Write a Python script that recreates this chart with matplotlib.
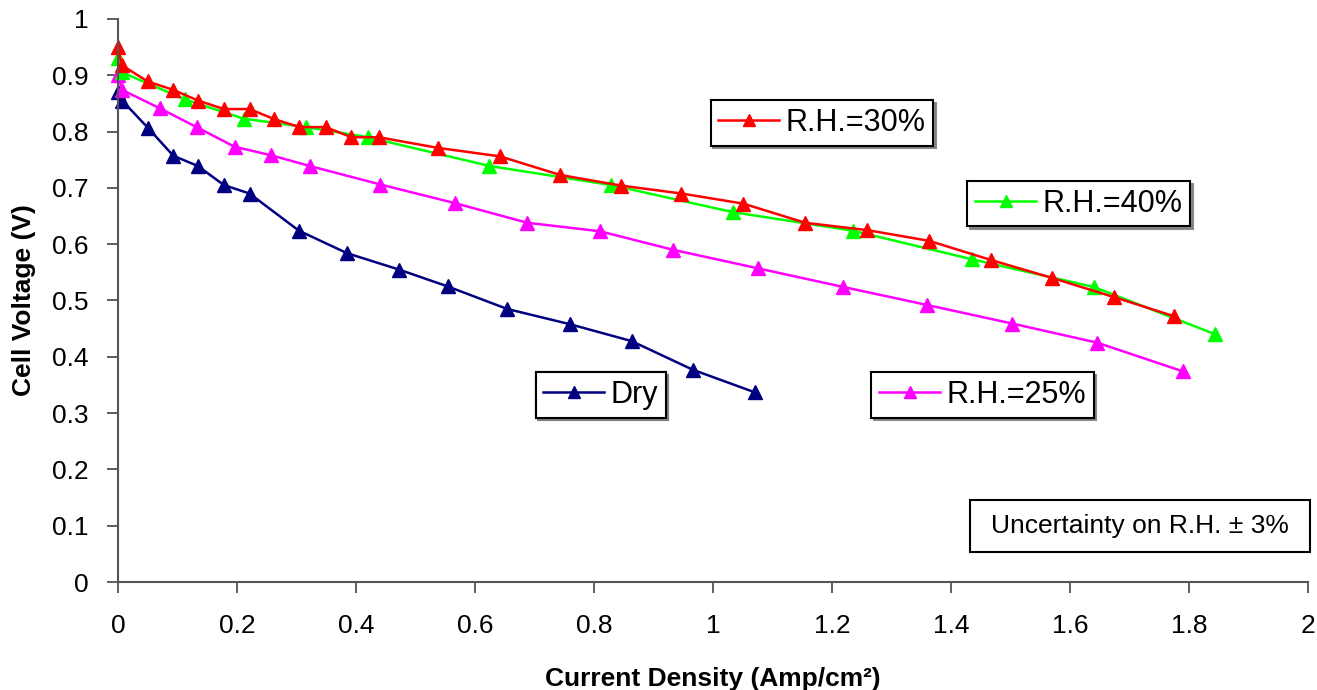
import matplotlib
matplotlib.use("Agg")
import matplotlib.pyplot as plt
from matplotlib.patches import Rectangle

plt.rcParams["font.family"] = ["Liberation Sans", "DejaVu Sans"]

# Polarization curves: current density (A/cm^2) vs cell voltage (V)
rh30_x = [0.0, 0.006, 0.05, 0.093, 0.135, 0.178, 0.221, 0.263, 0.305, 0.349, 0.392, 0.438,
          0.538, 0.642, 0.743, 0.846, 0.947, 1.051, 1.155, 1.259, 1.363, 1.467, 1.57, 1.674, 1.775]
rh30_y = [0.950, 0.918, 0.889, 0.874, 0.855, 0.840, 0.840, 0.822, 0.808, 0.808, 0.790, 0.790,
          0.771, 0.756, 0.723, 0.704, 0.690, 0.672, 0.638, 0.625, 0.606, 0.572, 0.540, 0.506, 0.472]

rh40_x = [0.0, 0.007, 0.113, 0.211, 0.316, 0.42, 0.624, 0.829, 1.033, 1.235, 1.436, 1.64, 1.844]
rh40_y = [0.931, 0.905, 0.857, 0.823, 0.808, 0.790, 0.739, 0.705, 0.657, 0.624, 0.573, 0.524, 0.440]

rh25_x = [0.0, 0.007, 0.071, 0.132, 0.196, 0.257, 0.322, 0.441, 0.566, 0.688, 0.81, 0.933,
          1.076, 1.219, 1.36, 1.503, 1.646, 1.79]
rh25_y = [0.900, 0.874, 0.841, 0.808, 0.773, 0.758, 0.739, 0.706, 0.673, 0.638, 0.623, 0.590,
          0.557, 0.524, 0.492, 0.459, 0.425, 0.374]

dry_x = [0.0, 0.007, 0.05, 0.093, 0.134, 0.178, 0.221, 0.304, 0.385, 0.472, 0.554, 0.654,
         0.759, 0.863, 0.966, 1.07]
dry_y = [0.871, 0.855, 0.807, 0.757, 0.739, 0.705, 0.690, 0.624, 0.584, 0.555, 0.525, 0.485,
         0.458, 0.428, 0.377, 0.337]

x_ticks = [0, 0.2, 0.4, 0.6, 0.8, 1, 1.2, 1.4, 1.6, 1.8, 2]
y_ticks = [0, 0.1, 0.2, 0.3, 0.4, 0.5, 0.6, 0.7, 0.8, 0.9, 1]

fig = plt.figure(figsize=(13.17, 6.9), dpi=100)
ax = fig.add_axes([0.0896, 0.1565, 0.9036, 0.816])

style = dict(marker="^", markersize=10, linewidth=1.8, clip_on=False)
l_dry, = ax.plot(dry_x, dry_y, color="#000080", label="Dry", **style)
l_25, = ax.plot(rh25_x, rh25_y, color="#FF00FF", label="R.H.=25%", **style)
l_40, = ax.plot(rh40_x, rh40_y, color="#00FF00", label="R.H.=40%", **style)
l_30, = ax.plot(rh30_x, rh30_y, color="#FF0000", label="R.H.=30%", **style)

ax.set_xlim(0, 2)
ax.set_ylim(0, 1)
ax.set_xticks(x_ticks)
ax.set_xticklabels([f"{t:g}" for t in x_ticks])
ax.set_yticks(y_ticks)
ax.set_yticklabels([f"{t:g}" for t in y_ticks])
ax.tick_params(axis="x", direction="out", length=8, width=1.2, pad=15, labelsize=19, color="#444444")
ax.tick_params(axis="y", direction="out", length=8, width=1.2, pad=13, labelsize=19, color="#444444")

for side in ["top", "right"]:
    ax.spines[side].set_visible(False)
for side in ["left", "bottom"]:
    ax.spines[side].set_color("#555555")
    ax.spines[side].set_linewidth(1.5)

ax.set_xlabel("Current Density (Amp/cm\u00b2)", fontsize=19, fontweight="bold", labelpad=21)
ax.set_ylabel("Cell Voltage (V)", fontsize=19, fontweight="bold", labelpad=12)

# one boxed legend per curve, placed next to the curve
legend_spots = [
    (l_30, (0.624, 0.8217)),
    (l_40, (0.819, 0.705)),
    (l_25, (0.746, 0.4275)),
    (l_dry, (0.456, 0.4275)),
]
for line, spot in legend_spots:
    leg = ax.legend(handles=[line], loc="center", bbox_to_anchor=spot,
                    bbox_transform=fig.transFigure, fontsize=22, frameon=True,
                    fancybox=False, shadow={"color": "gray", "alpha": 0.9},
                    edgecolor="black", framealpha=1, borderpad=0.25,
                    handlelength=2.0, handletextpad=0.2, markerscale=0.85,
                    borderaxespad=0)
    leg.get_frame().set_linewidth(1.5)
    ax.add_artist(leg)

# uncertainty note box
fig.patches.append(Rectangle((970 / 1317, 1 - 552 / 690), 340 / 1317, 52 / 690,
                             transform=fig.transFigure, facecolor="white",
                             edgecolor="black", linewidth=1.5))
fig.text(1140 / 1317, 1 - 526 / 690, "Uncertainty on R.H. \u00b1 3%", fontsize=19,
         ha="center", va="center")

fig.savefig("out.png", dpi=100)
